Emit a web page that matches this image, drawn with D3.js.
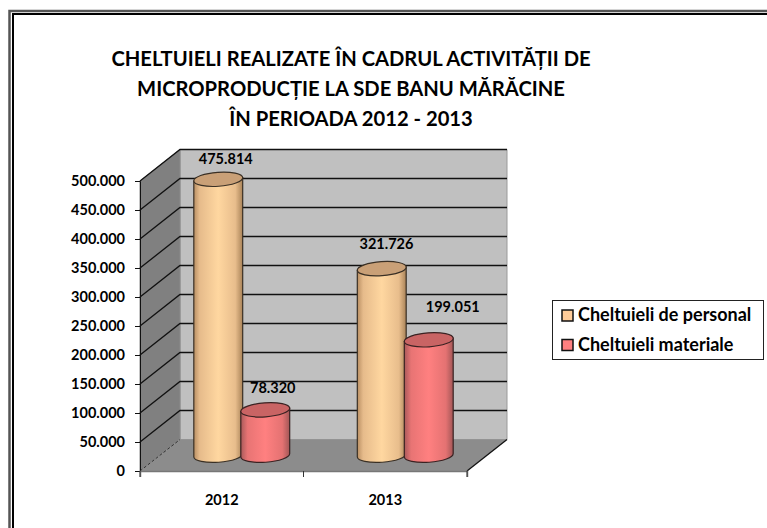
<!DOCTYPE html>
<html><head><meta charset="utf-8">
<script src="https://cdn.jsdelivr.net/npm/d3@7"></script>
<style>html,body{margin:0;padding:0;background:#fff}svg{display:block}text{font-family:Lato,"Open Sans",sans-serif;fill:#000}</style>
</head><body><svg id="c" width="767" height="528"></svg>
<script>
const categories = ["2012","2013"];
const seriesNames = ["Cheltuieli de personal","Cheltuieli materiale"];
const personal = [475814,321726];
const materiale = [78320,199051];
const titleLines = ["CHELTUIELI REALIZATE ÎN CADRUL ACTIVITĂȚII DE","MICROPRODUCȚIE LA SDE BANU MĂRĂCINE","ÎN PERIOADA 2012 - 2013"];
const yTicks = [0,50000,100000,150000,200000,250000,300000,350000,400000,450000,500000];

const svg = d3.select("#c");
const fmt = v => d3.format(",")(v).replace(/,/g,".");
const dx = 40, dy = -31.5;
const x = d3.scaleBand().domain(categories).range([140,467]);
const x1 = d3.scaleBand().domain(seriesNames).range([-47,47]);
const y = d3.scaleLinear().domain([0,500000]).range([471,181]);

const defs = svg.append("defs");
function cyl(id, stops){
  const g = defs.append("linearGradient").attr("id",id);
  stops.forEach(([o,c])=>g.append("stop").attr("offset",o).attr("stop-color",c));
}
cyl("g0",[[0,"#b98f63"],[.12,"#e6bb8b"],[.5,"#ffd7a0"],[.85,"#e8bd8c"],[1,"#a98358"]]);
cyl("g1",[[0,"#a95a5a"],[.14,"#e87474"],[.5,"#ff8080"],[.85,"#e47272"],[1,"#a25656"]]);
const tops = ["#c9a077","#c96464"];
const strokes = ["#3a3025","#3a2222"];

// frame
const frame = svg.append("g").attr("fill","none");
frame.append("path").attr("d","M9.5,528V11H767").attr("stroke","#555").attr("stroke-width",2.5);
frame.append("path").attr("d","M13,528V14H767").attr("stroke","#000").attr("stroke-width",2);

// title
svg.append("g").selectAll("text").data(titleLines).join("text")
  .attr("x",351).attr("y",(d,i)=>66+i*30).attr("text-anchor","middle")
  .attr("font-size",20.2).attr("font-weight",700).text(d=>d);

// walls
const pts = a => a.map(p=>p.join(",")).join(" ");
const X0=140,X1=467,Y0=y(0),Y1=y(500000);
svg.append("polygon").attr("points",pts([[X0+dx,Y1+dy],[X1+dx,Y1+dy],[X1+dx,Y0+dy],[X0+dx,Y0+dy]])).attr("fill","#c0c0c0").attr("stroke","#9a9a9a");
svg.append("polygon").attr("points",pts([[X0,Y1],[X0+dx,Y1+dy],[X0+dx,Y0+dy],[X0,Y0]])).attr("fill","#808080").attr("stroke","#8a8a8a");
svg.append("polygon").attr("points",pts([[X0,Y0],[X0+dx,Y0+dy],[X1+dx,Y0+dy],[X1,Y0]])).attr("fill","#8c8c8c");

// gridlines
const grid = svg.append("g").attr("fill","none").attr("stroke","#111").attr("stroke-width",1.3);
yTicks.filter(t=>t>0).forEach(t=>{
  grid.append("path").attr("d",`M${X0},${y(t)}L${X0+dx},${y(t)+dy}H${X1+dx}`);
});
// floor edges
svg.append("line").attr("x1",X0).attr("y1",Y0).attr("x2",X0+dx).attr("y2",Y0+dy).attr("stroke","#333").attr("stroke-dasharray","3,2");
svg.append("line").attr("x1",X1).attr("y1",Y0).attr("x2",X1+dx).attr("y2",Y0+dy).attr("stroke","#111").attr("stroke-width",1.3);

// axes
const yAxis = d3.axisLeft(y).tickValues(yTicks).tickFormat(fmt).tickSize(5).tickPadding(10);
const ay = svg.append("g").attr("transform",`translate(${X0},0)`).call(yAxis);
ay.selectAll("text").attr("font-size",14.5).attr("font-weight",700).attr("font-family","Lato");
ay.selectAll("line,path").attr("stroke","#111");
const xAxis = d3.axisBottom(x).tickSizeOuter(0).tickSize(6).tickPadding(18);
const ax = svg.append("g").attr("transform",`translate(0,${Y0})`).call(xAxis);
ax.selectAll(".tick line").remove();
ax.selectAll("text").attr("font-size",14.5).attr("font-weight",700).attr("font-family","Lato");
ax.select(".domain").attr("stroke","#777").attr("stroke-width",1.5);
svg.append("g").selectAll("line").data([0,1,2]).join("line")
  .attr("x1",i=>x.range()[0]+i*x.bandwidth()).attr("x2",i=>x.range()[0]+i*x.bandwidth())
  .attr("y1",Y0).attr("y2",Y0+6).attr("stroke","#333");

// cylinders
const rows=[];
categories.forEach((c,i)=>{ rows.push({c,s:0,v:personal[i]}); rows.push({c,s:1,v:materiale[i]}); });
const rx = 24.5, ry = 7, tilt = -4;
rows.forEach(d=>{
  const cx = x(d.c)+x.bandwidth()/2+dx/2+x1(seriesNames[d.s])+x1.bandwidth()/2;
  const yb = y(0)+dy/2, yt = y(d.v)+dy/2;
  const g = svg.append("g");
  const t = tilt*Math.PI/180;
  const ex = rx*Math.cos(t), ey = rx*Math.sin(t);
  g.append("path").attr("d",`M${cx-ex},${yt-ey}L${cx-ex},${yb-ey}A${rx},${ry} ${tilt} 0 0 ${cx+ex},${yb+ey}L${cx+ex},${yt+ey}Z`)
    .attr("fill",`url(#g${d.s})`).attr("stroke",strokes[d.s]).attr("stroke-width",1.2);
  g.append("ellipse").attr("cx",cx).attr("cy",yt).attr("rx",rx).attr("ry",ry)
    .attr("transform",`rotate(${tilt} ${cx} ${yt})`)
    .attr("fill",tops[d.s]).attr("stroke",strokes[d.s]).attr("stroke-width",1.2);
});
// data labels, each hand-placed in the source chart
const nudge = [[7.5,-15],[7.5,-17],[4.7,-20],[24,-28]];
svg.append("g").selectAll("text").data(rows).join("text")
  .attr("x",(d,i)=>x(d.c)+x.bandwidth()/2+dx/2+x1(seriesNames[d.s])+x1.bandwidth()/2+nudge[i][0])
  .attr("y",(d,i)=>y(d.v)+dy/2+nudge[i][1])
  .attr("text-anchor","middle").attr("font-size",14.5).attr("font-weight",700)
  .text(d=>fmt(d.v));

// legend
svg.append("rect").attr("x",552.5).attr("y",300.5).attr("width",211).attr("height",59).attr("fill","#fff").attr("stroke","#222");
const lg = svg.append("g").selectAll("g").data(seriesNames).join("g").attr("transform",(d,i)=>`translate(0,${i*29.5})`);
lg.append("rect").attr("x",562).attr("y",310).attr("width",11).attr("height",11).attr("fill",(d,i)=>["#ffcc99","#ff8080"][i]).attr("stroke","#111").attr("stroke-width",1.5);
lg.append("text").attr("x",578).attr("y",321).attr("font-size",18).attr("font-weight",700).text(d=>d);
</script></body></html>
